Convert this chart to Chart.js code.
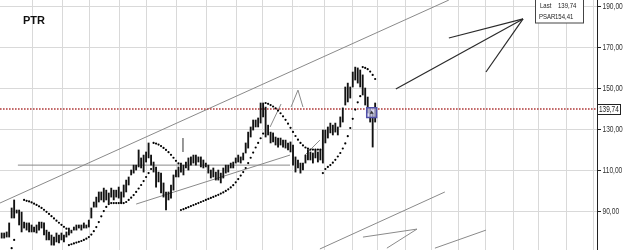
<!DOCTYPE html>
<html>
<head>
<meta charset="utf-8">
<script src="https://cdn.jsdelivr.net/npm/chart.js@4.4.1/dist/chart.umd.min.js"></script>
<style>
  html, body { margin: 0; padding: 0; background: #fff; }
  #wrap { width: 625px; height: 250px; }
</style>
</head>
<body>
<div id="wrap"><canvas id="myChart"></canvas></div>
<script>
// daily bars, oldest first (index = bar number)
var highs = [79.3, 79.3, 79.8, 84.2, 91.5, 95.4, 90.5, 90.5, 89.5, 84.6,
  84.2, 84.2, 83.2, 82.2, 83.2, 84.6, 84.6, 84.2, 80.7, 79.8,
  78.3, 77.3, 79.3, 78.3, 79.3, 78.3, 79.8, 81.7, 80.7, 82.2,
  83.2, 83.2, 83.2, 84.2, 83.2, 85.6, 91.5, 94.4, 96.8, 99.3,
  99.3, 101.2, 100.2, 98.8, 101.2, 100.2, 100.2, 101.7, 99.3, 102.7,
  105.1, 106.6, 110.0, 112.4, 112.4, 119.8, 115.9, 117.3, 118.8, 123.2,
  117.3, 113.9, 111.5, 109.0, 108.5, 103.7, 99.3, 99.3, 102.7, 107.6,
  110.0, 111.5, 113.4, 112.4, 113.9, 115.9, 116.4, 117.3, 117.3, 116.4,
  116.4, 114.9, 113.4, 112.4, 110.0, 111.0, 109.0, 110.0, 108.5, 111.0,
  112.4, 112.4, 113.4, 113.9, 115.9, 117.3, 116.4, 118.3, 123.2, 128.5,
  131.0, 134.4, 134.4, 135.4, 142.7, 142.7, 140.7, 131.9, 128.5, 128.1,
  126.1, 125.6, 125.6, 124.6, 124.6, 123.2, 123.7, 122.2, 116.4, 114.9,
  113.4, 113.4, 117.3, 119.8, 118.8, 118.3, 119.8, 118.8, 119.8, 129.5,
  129.5, 131.0, 132.9, 131.9, 132.9, 131.0, 135.9, 140.3, 150.5, 152.4,
  150.5, 157.8, 160.2, 159.8, 158.8, 156.4, 150.0, 145.6, 140.3, 137.8, 142.7];

var lows = [76.8, 76.8, 77.3, 77.3, 86.6, 86.6, 89.0, 83.2, 79.8, 81.7,
  80.7, 79.8, 79.8, 79.8, 79.3, 80.7, 81.7, 78.3, 75.9, 75.9,
  73.4, 73.4, 74.9, 74.4, 75.9, 74.9, 77.3, 78.3, 79.3, 80.7,
  80.7, 81.7, 80.7, 81.7, 81.7, 82.2, 86.6, 91.9, 91.9, 94.4,
  95.4, 94.4, 95.4, 93.9, 96.8, 95.4, 96.8, 96.3, 93.9, 96.8,
  99.3, 102.7, 107.6, 108.5, 110.0, 111.5, 111.0, 109.0, 113.9, 115.9,
  112.4, 109.0, 101.7, 104.2, 98.8, 96.8, 90.5, 95.4, 96.3, 100.2,
  106.6, 106.6, 109.0, 107.6, 111.0, 110.0, 112.4, 113.4, 112.4, 113.9,
  111.5, 111.0, 111.5, 108.5, 106.1, 106.6, 105.1, 105.1, 103.7, 106.1,
  108.5, 109.0, 111.0, 111.0, 113.4, 113.9, 113.4, 114.9, 118.3, 120.7,
  126.1, 129.5, 131.0, 131.0, 132.9, 135.9, 126.1, 127.1, 123.2, 123.7,
  122.2, 121.2, 122.2, 121.2, 120.7, 119.8, 118.8, 112.4, 109.0, 111.0,
  108.5, 110.0, 113.4, 114.9, 114.9, 113.4, 115.9, 113.9, 114.9, 113.4,
  123.2, 125.6, 128.1, 127.1, 128.5, 127.1, 131.0, 133.4, 141.7, 143.2,
  145.1, 150.5, 153.9, 152.4, 150.5, 146.6, 141.7, 137.8, 133.4, 121.2, 133.4];

// parabolic SAR, one value per bar (null = no dot drawn)
var psar = [null, null, null, null, 71.9, 75.9, null, null, null,
  95.4, 95.0, 94.7, 94.2, 93.6, 93.0, 92.3, 91.5, 90.6, 89.6, 88.6, 87.5, 86.4, 85.3, 84.3, 83.3, 82.3, 81.4,
  73.4, 73.8, 74.2, 74.6, 75.0, 75.4, 75.9, 76.5, 77.3, 78.5, 80.2, 82.2, 84.6, 87.4, 90.0, 92.0, 93.4,
  93.9, 93.9, 93.9, 93.9, 93.9, 93.9, 94.4, 95.4, 96.5, 97.8, 99.3, 101.0, 102.7, 104.6, 106.6, 108.5, 110.5,
  123.2, 122.9, 122.4, 121.7, 120.8, 119.8, 118.7, 117.4, 116.0, 114.5, 113.2,
  90.5, 90.9, 91.4, 91.9, 92.4, 92.9, 93.4, 93.9, 94.4, 94.9, 95.4, 95.9, 96.4, 96.9, 97.4, 97.9,
  98.5, 99.1, 99.8, 100.6, 101.5, 102.6, 104.0, 105.6, 107.3, 109.0, 111.0, 113.4, 116.0, 118.5,
  121.0, 123.2, 125.5, 127.8,
  142.7, 142.3, 141.7, 141.0, 140.1, 139.0, 137.7, 136.2, 134.5, 132.6, 130.6, 128.6, 126.6, 124.8,
  123.2, 122.0, 121.0, 120.4, 120.0, 120.0, 120.0, 120.0, 120.0,
  108.5, 110.5, 111.5, 112.4, 113.6, 115.0, 116.6, 118.3, 120.5, 123.0, 126.5, 130.5, 135.0, 139.5, 143.0, 146.0,
  160.2, 159.8, 159.2, 158.0, 156.4, 154.41];

var lastClose = 139.74;
var lastPsar = 154.41;
var markerBar = 148.6;
var markerPrice = 138.0;

// hand drawn lines: [bar1, price1, bar2, price2]
var grayLines = [
  [-0.7, 93.9, 179.6, 192.9],
  [6.5, 112.4, 115.8, 112.4],
  [54.0, 93.4, 115.8, 117.3],
  [121.8, 117.3, 127.8, 124.6],
  [107.8, 131.0, 112.2, 142.2],
  [116.2, 140.7, 119.0, 149.0],
  [119.0, 149.0, 121.0, 140.7],
  [72.8, 125.6, 72.8, 118.8],
  [127.8, 71.5, 178.0, 99.3],
  [145.1, 77.3, 166.8, 81.2],
  [154.7, 71.9, 166.8, 81.2],
  [174.0, 71.9, 194.5, 80.7]
];
var darkLines = [
  [179.6, 174.4, 209.4, 183.7],
  [158.3, 149.5, 209.4, 183.7],
  [194.5, 157.8, 209.4, 183.7]
];

var yTicks = [90, 110, 130, 150, 170, 190];
var xGrid = [12.2, 24.6, 35.1, 47.5, 58.0, 70.4, 82.1, 94.5, 104.9, 117.0, 129.8,
  140.7, 151.1, 162.0, 172.8, 183.3, 194.5, 205.4, 215.8, 226.7, 237.5];
var xMin = -0.68, xMax = 239.1, yMin = 71.0, yMax = 192.93;

var sans = '"Liberation Sans", Arial, sans-serif';

function fmt(v) { return v.toFixed(2).replace('.', ','); }

// squeezed text, the original uses a narrow font
function narrowText(ctx, text, x, y, squeeze) {
  ctx.save();
  ctx.translate(x, y);
  ctx.scale(squeeze, 1);
  ctx.fillText(text, 0, 0);
  ctx.restore();
}

function lineSet(l, color, width) {
  return {
    type: 'line',
    data: [{x: l[0], y: l[1]}, {x: l[2], y: l[3]}],
    borderColor: color,
    borderWidth: width,
    pointRadius: 0,
    fill: false
  };
}

var overlay = {
  id: 'overlay',
  afterDraw: function(chart) {
    var ctx = chart.ctx;
    var y = chart.scales.y;
    ctx.save();
    ctx.textBaseline = 'middle';
    ctx.fillStyle = '#111';
    ctx.font = 'bold 11px ' + sans;
    ctx.fillText('PTR', 23, 21);

    // axis labels
    ctx.fillStyle = '#333';
    ctx.font = '8.5px ' + sans;
    yTicks.forEach(function(v) {
      narrowText(ctx, fmt(v), 602.5, y.getPixelForValue(v) + 0.5, 0.78);
    });

    // last price tag on the axis
    var py = Math.round(y.getPixelForValue(lastClose));
    ctx.fillStyle = '#fff';
    ctx.fillRect(597.5, py - 4.5, 23, 10);
    ctx.strokeStyle = '#222';
    ctx.lineWidth = 1;
    ctx.strokeRect(597.5, py - 4.5, 23, 10);
    ctx.fillStyle = '#222';
    narrowText(ctx, fmt(lastClose), 599, py + 0.5, 0.76);

    // info box
    ctx.fillStyle = '#fff';
    ctx.fillRect(535.5, -1, 48, 24);
    ctx.strokeStyle = '#444';
    ctx.strokeRect(535.5, -1, 48, 24);
    ctx.fillStyle = '#222';
    ctx.font = '7.5px ' + sans;
    narrowText(ctx, 'Last', 540, 6, 0.8);
    narrowText(ctx, fmt(lastClose), 558, 6, 0.8);
    narrowText(ctx, 'PSAR', 539, 17, 0.8);
    narrowText(ctx, fmt(lastPsar), 555, 17, 0.8);
    ctx.restore();
  }
};

var datasets = [
  {
    type: 'line',
    data: [{x: markerBar, y: markerPrice}],
    pointStyle: 'triangle',
    pointRadius: 2.2,
    pointBackgroundColor: '#333',
    pointBorderWidth: 0,
    showLine: false
  },
  {
    type: 'line',
    data: [{x: markerBar, y: markerPrice}],
    pointStyle: 'rect',
    pointRadius: 7,
    pointBackgroundColor: 'rgba(205,205,240,0.7)',
    pointBorderColor: '#5050a8',
    pointBorderWidth: 1.5,
    showLine: false
  },
  {
    type: 'line',
    data: psar.map(function(v, i) { return {x: i, y: v}; }),
    showLine: false,
    pointRadius: 1.1,
    pointBackgroundColor: '#000',
    pointBorderWidth: 0
  },
  {
    type: 'bar',
    data: highs.map(function(h, i) { return {x: i, y: [lows[i], h]}; }),
    backgroundColor: '#111',
    barThickness: 1.2,
    borderWidth: 0
  },
  {
    type: 'line',
    data: [{x: xMin, y: lastClose}, {x: xMax, y: lastClose}],
    borderColor: '#b03a3a',
    borderWidth: 1.6,
    borderDash: [1.6, 1.4],
    pointRadius: 0
  }
];
darkLines.forEach(function(l) { datasets.push(lineSet(l, '#2a2a2a', 1.2)); });
grayLines.forEach(function(l) { datasets.push(lineSet(l, '#8a8a8a', 1)); });

var ctx = document.getElementById('myChart').getContext('2d');
var chart = new Chart(ctx, {
  type: 'bar',
  data: { datasets: datasets },
  options: {
    responsive: true,
    maintainAspectRatio: false,
    animation: false,
    devicePixelRatio: 1,
    layout: { padding: 0, autoPadding: false },
    plugins: { legend: { display: false }, tooltip: { enabled: false } },
    scales: {
      x: {
        type: 'linear',
        min: xMin,
        max: xMax,
        offset: false,
        grid: { color: '#d9d9d9', offset: false, drawTicks: false },
        border: { display: false },
        ticks: { display: false },
        afterBuildTicks: function(s) { s.ticks = xGrid.map(function(v) { return {value: v}; }); },
        afterFit: function(s) { s.height = 0; }
      },
      y: {
        position: 'right',
        min: yMin,
        max: yMax,
        beginAtZero: false,
        grid: { color: '#d9d9d9', tickColor: '#222', tickLength: 4 },
        border: { display: true, color: '#222', width: 1 },
        ticks: { display: false },
        afterBuildTicks: function(s) { s.ticks = yTicks.map(function(v) { return {value: v}; }); },
        afterFit: function(s) { s.width = 28; s.paddingTop = 0; s.paddingBottom = 0; }
      }
    }
  },
  plugins: [overlay]
});
</script>
</body>
</html>
